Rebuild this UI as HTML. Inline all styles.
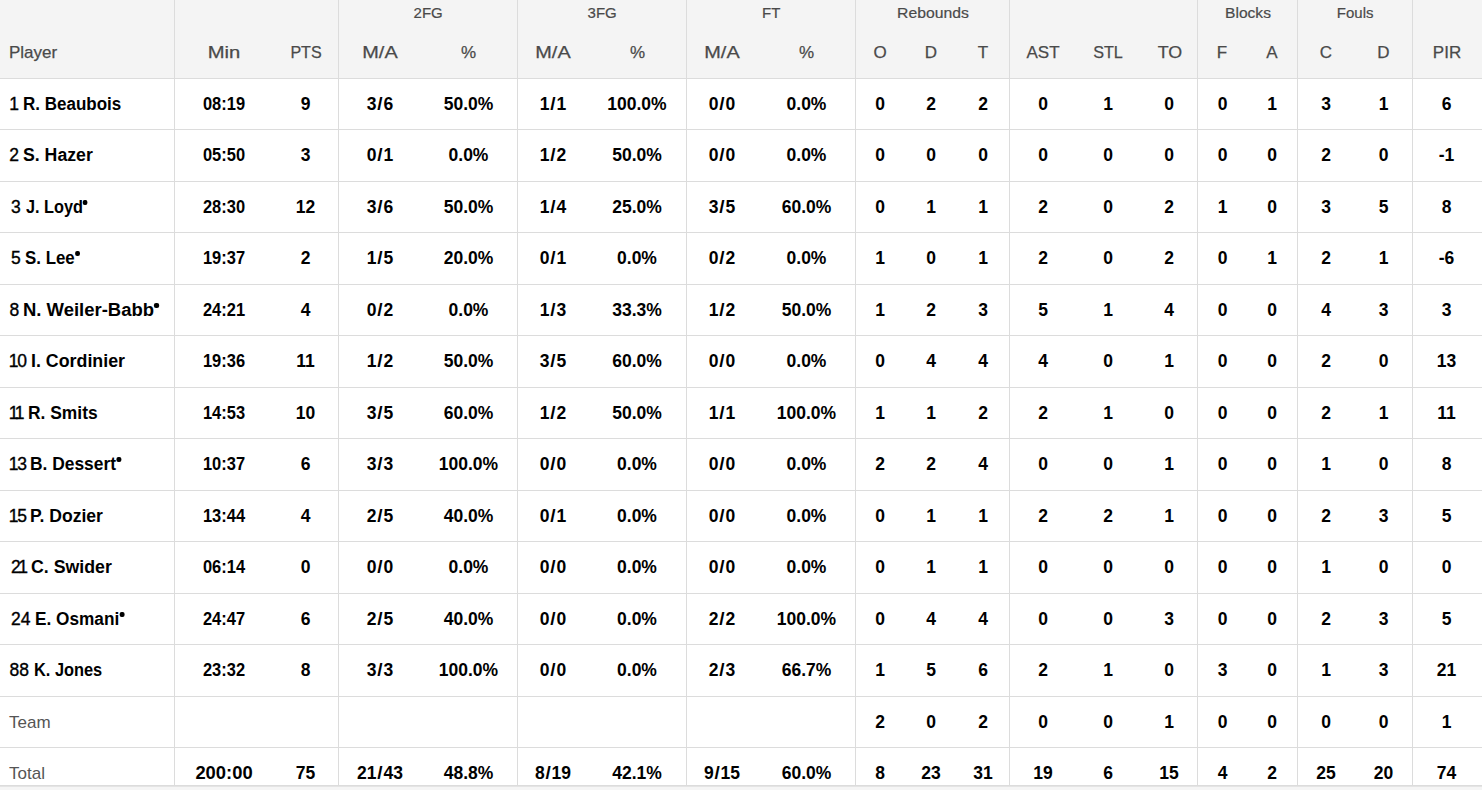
<!DOCTYPE html>
<html><head><meta charset="utf-8"><title>Box score</title>
<style>
*{margin:0;padding:0;box-sizing:border-box}
html,body{width:1482px;height:790px;overflow:hidden;background:#fff}
body{position:relative;font-family:"Liberation Sans",sans-serif;font-size:17px;color:#111}
.hd{position:absolute;left:0;top:0;width:1482px;height:78px;background:#f4f4f4}
.hl{position:absolute;left:0;width:1482px;height:1px;background:#dcdcdc}
.vl{position:absolute;top:0;width:1px;height:786px;background:#dcdcdc}
.c{position:absolute;text-align:center;white-space:nowrap;font-weight:bold;color:#000;font-size:17.5px;padding-top:1px}
.g{position:absolute;text-align:center;white-space:nowrap;font-size:15px;color:#4a4a4a;-webkit-text-stroke:0.2px #4a4a4a;top:0;height:25px;line-height:25px}
.s{position:absolute;text-align:center;white-space:nowrap;color:#4a4a4a;top:41px;height:24px;line-height:24px;-webkit-text-stroke:0.25px #4a4a4a}
.p{position:absolute;left:9px;white-space:nowrap;font-weight:bold;color:#000;font-size:17.5px;padding-top:1px}
.p span{font-weight:normal;-webkit-text-stroke:0.35px #000}
.p i{display:inline-block;width:5px;height:5px;border-radius:2px;background:#000;margin-left:0;vertical-align:8px}
.c b{font-weight:bold;margin:0 0.8px;font-size:19px;line-height:0}
.lab{position:absolute;left:9px;white-space:nowrap;color:#555;padding-top:1px}
.sb{position:absolute;left:0;top:787px;width:1482px;height:3px;background:#f5f5f5}
</style></head><body>
<div class="hd"></div>

<div class="g" style="left:338.7px;width:179px">2FG</div>
<div class="g" style="left:517.7px;width:169px">3FG</div>
<div class="g" style="left:686.7px;width:169px">FT</div>
<div class="g" style="left:855.7px;width:154px;transform:scaleX(1.05)">Rebounds</div>
<div class="g" style="left:1197.7px;width:100px;transform:scaleX(1.04)">Blocks</div>
<div class="g" style="left:1297.7px;width:115px">Fouls</div>
<div class="s" style="left:9px;text-align:left">Player</div>
<div class="s" style="left:174px;width:100px;transform:scaleX(1.19)">Min</div>
<div class="s" style="left:274px;width:64px;transform:scaleX(0.945)">PTS</div>
<div class="s" style="left:338px;width:84px;transform:scaleX(1.17)">M/A</div>
<div class="s" style="left:421px;width:95px">%</div>
<div class="s" style="left:517px;width:72px;transform:scaleX(1.17)">M/A</div>
<div class="s" style="left:589px;width:97px">%</div>
<div class="s" style="left:686px;width:72px;transform:scaleX(1.17)">M/A</div>
<div class="s" style="left:758px;width:97px">%</div>
<div class="s" style="left:855px;width:50px">O</div>
<div class="s" style="left:905px;width:52px">D</div>
<div class="s" style="left:957px;width:52px">T</div>
<div class="s" style="left:1009px;width:68px">AST</div>
<div class="s" style="left:1077px;width:62px;transform:scaleX(0.95)">STL</div>
<div class="s" style="left:1140.5px;width:58px;transform:scaleX(1.05)">TO</div>
<div class="s" style="left:1197px;width:50px">F</div>
<div class="s" style="left:1247px;width:50px">A</div>
<div class="s" style="left:1297px;width:58px">C</div>
<div class="s" style="left:1355px;width:57px">D</div>
<div class="s" style="left:1412px;width:70px">PIR</div>
<div class="p" style="left:9.3px;top:78.00px;height:51.46px;line-height:51.46px"><span>1</span></div>
<div class="p" style="left:22.93px;top:78.00px;height:51.46px;line-height:51.46px;transform:scaleX(0.971);transform-origin:0 0">R. Beaubois</div>
<div class="c" style="left:174px;width:100px;top:78.00px;height:51.46px;line-height:51.46px;transform:scaleX(0.94)">08:19</div>
<div class="c" style="left:273.5px;width:64px;top:78.00px;height:51.46px;line-height:51.46px">9</div>
<div class="c" style="left:338px;width:84px;top:78.00px;height:51.46px;line-height:51.46px">3<b>/</b>6</div>
<div class="c" style="left:421px;width:95px;top:78.00px;height:51.46px;line-height:51.46px">50.0%</div>
<div class="c" style="left:517px;width:72px;top:78.00px;height:51.46px;line-height:51.46px">1<b>/</b>1</div>
<div class="c" style="left:588.5px;width:97px;top:78.00px;height:51.46px;line-height:51.46px">100.0%</div>
<div class="c" style="left:686px;width:72px;top:78.00px;height:51.46px;line-height:51.46px">0<b>/</b>0</div>
<div class="c" style="left:758px;width:97px;top:78.00px;height:51.46px;line-height:51.46px">0.0%</div>
<div class="c" style="left:855px;width:50px;top:78.00px;height:51.46px;line-height:51.46px">0</div>
<div class="c" style="left:905px;width:52px;top:78.00px;height:51.46px;line-height:51.46px">2</div>
<div class="c" style="left:957px;width:52px;top:78.00px;height:51.46px;line-height:51.46px">2</div>
<div class="c" style="left:1009px;width:68px;top:78.00px;height:51.46px;line-height:51.46px">0</div>
<div class="c" style="left:1077px;width:62px;top:78.00px;height:51.46px;line-height:51.46px">1</div>
<div class="c" style="left:1140px;width:58px;top:78.00px;height:51.46px;line-height:51.46px">0</div>
<div class="c" style="left:1197.5px;width:50px;top:78.00px;height:51.46px;line-height:51.46px">0</div>
<div class="c" style="left:1247px;width:50px;top:78.00px;height:51.46px;line-height:51.46px">1</div>
<div class="c" style="left:1297px;width:58px;top:78.00px;height:51.46px;line-height:51.46px">3</div>
<div class="c" style="left:1355px;width:57px;top:78.00px;height:51.46px;line-height:51.46px">1</div>
<div class="c" style="left:1411.5px;width:70px;top:78.00px;height:51.46px;line-height:51.46px">6</div>
<div class="p" style="left:9.2px;top:129.46px;height:51.46px;line-height:51.46px"><span>2</span></div>
<div class="p" style="left:22.89px;top:129.46px;height:51.46px;line-height:51.46px;transform:scaleX(1.0103);transform-origin:0 0">S. Hazer</div>
<div class="c" style="left:174px;width:100px;top:129.46px;height:51.46px;line-height:51.46px;transform:scaleX(0.94)">05:50</div>
<div class="c" style="left:273.5px;width:64px;top:129.46px;height:51.46px;line-height:51.46px">3</div>
<div class="c" style="left:338px;width:84px;top:129.46px;height:51.46px;line-height:51.46px">0<b>/</b>1</div>
<div class="c" style="left:421px;width:95px;top:129.46px;height:51.46px;line-height:51.46px">0.0%</div>
<div class="c" style="left:517px;width:72px;top:129.46px;height:51.46px;line-height:51.46px">1<b>/</b>2</div>
<div class="c" style="left:588.5px;width:97px;top:129.46px;height:51.46px;line-height:51.46px">50.0%</div>
<div class="c" style="left:686px;width:72px;top:129.46px;height:51.46px;line-height:51.46px">0<b>/</b>0</div>
<div class="c" style="left:758px;width:97px;top:129.46px;height:51.46px;line-height:51.46px">0.0%</div>
<div class="c" style="left:855px;width:50px;top:129.46px;height:51.46px;line-height:51.46px">0</div>
<div class="c" style="left:905px;width:52px;top:129.46px;height:51.46px;line-height:51.46px">0</div>
<div class="c" style="left:957px;width:52px;top:129.46px;height:51.46px;line-height:51.46px">0</div>
<div class="c" style="left:1009px;width:68px;top:129.46px;height:51.46px;line-height:51.46px">0</div>
<div class="c" style="left:1077px;width:62px;top:129.46px;height:51.46px;line-height:51.46px">0</div>
<div class="c" style="left:1140px;width:58px;top:129.46px;height:51.46px;line-height:51.46px">0</div>
<div class="c" style="left:1197.5px;width:50px;top:129.46px;height:51.46px;line-height:51.46px">0</div>
<div class="c" style="left:1247px;width:50px;top:129.46px;height:51.46px;line-height:51.46px">0</div>
<div class="c" style="left:1297px;width:58px;top:129.46px;height:51.46px;line-height:51.46px">2</div>
<div class="c" style="left:1355px;width:57px;top:129.46px;height:51.46px;line-height:51.46px">0</div>
<div class="c" style="left:1411.5px;width:70px;top:129.46px;height:51.46px;line-height:51.46px">-1</div>
<div class="p" style="left:10.95px;top:180.92px;height:51.46px;line-height:51.46px"><span>3</span></div>
<div class="p" style="left:25.8px;top:180.92px;height:51.46px;line-height:51.46px;transform:scaleX(0.9303);transform-origin:0 0">J. Loyd<i></i></div>
<div class="c" style="left:174px;width:100px;top:180.92px;height:51.46px;line-height:51.46px;transform:scaleX(0.94)">28:30</div>
<div class="c" style="left:273.5px;width:64px;top:180.92px;height:51.46px;line-height:51.46px">12</div>
<div class="c" style="left:338px;width:84px;top:180.92px;height:51.46px;line-height:51.46px">3<b>/</b>6</div>
<div class="c" style="left:421px;width:95px;top:180.92px;height:51.46px;line-height:51.46px">50.0%</div>
<div class="c" style="left:517px;width:72px;top:180.92px;height:51.46px;line-height:51.46px">1<b>/</b>4</div>
<div class="c" style="left:588.5px;width:97px;top:180.92px;height:51.46px;line-height:51.46px">25.0%</div>
<div class="c" style="left:686px;width:72px;top:180.92px;height:51.46px;line-height:51.46px">3<b>/</b>5</div>
<div class="c" style="left:758px;width:97px;top:180.92px;height:51.46px;line-height:51.46px">60.0%</div>
<div class="c" style="left:855px;width:50px;top:180.92px;height:51.46px;line-height:51.46px">0</div>
<div class="c" style="left:905px;width:52px;top:180.92px;height:51.46px;line-height:51.46px">1</div>
<div class="c" style="left:957px;width:52px;top:180.92px;height:51.46px;line-height:51.46px">1</div>
<div class="c" style="left:1009px;width:68px;top:180.92px;height:51.46px;line-height:51.46px">2</div>
<div class="c" style="left:1077px;width:62px;top:180.92px;height:51.46px;line-height:51.46px">0</div>
<div class="c" style="left:1140px;width:58px;top:180.92px;height:51.46px;line-height:51.46px">2</div>
<div class="c" style="left:1197.5px;width:50px;top:180.92px;height:51.46px;line-height:51.46px">1</div>
<div class="c" style="left:1247px;width:50px;top:180.92px;height:51.46px;line-height:51.46px">0</div>
<div class="c" style="left:1297px;width:58px;top:180.92px;height:51.46px;line-height:51.46px">3</div>
<div class="c" style="left:1355px;width:57px;top:180.92px;height:51.46px;line-height:51.46px">5</div>
<div class="c" style="left:1411.5px;width:70px;top:180.92px;height:51.46px;line-height:51.46px">8</div>
<div class="p" style="left:10.95px;top:232.38px;height:51.46px;line-height:51.46px"><span>5</span></div>
<div class="p" style="left:24.84px;top:232.38px;height:51.46px;line-height:51.46px;transform:scaleX(0.9643);transform-origin:0 0">S. Lee<i></i></div>
<div class="c" style="left:174px;width:100px;top:232.38px;height:51.46px;line-height:51.46px;transform:scaleX(0.94)">19:37</div>
<div class="c" style="left:273.5px;width:64px;top:232.38px;height:51.46px;line-height:51.46px">2</div>
<div class="c" style="left:338px;width:84px;top:232.38px;height:51.46px;line-height:51.46px">1<b>/</b>5</div>
<div class="c" style="left:421px;width:95px;top:232.38px;height:51.46px;line-height:51.46px">20.0%</div>
<div class="c" style="left:517px;width:72px;top:232.38px;height:51.46px;line-height:51.46px">0<b>/</b>1</div>
<div class="c" style="left:588.5px;width:97px;top:232.38px;height:51.46px;line-height:51.46px">0.0%</div>
<div class="c" style="left:686px;width:72px;top:232.38px;height:51.46px;line-height:51.46px">0<b>/</b>2</div>
<div class="c" style="left:758px;width:97px;top:232.38px;height:51.46px;line-height:51.46px">0.0%</div>
<div class="c" style="left:855px;width:50px;top:232.38px;height:51.46px;line-height:51.46px">1</div>
<div class="c" style="left:905px;width:52px;top:232.38px;height:51.46px;line-height:51.46px">0</div>
<div class="c" style="left:957px;width:52px;top:232.38px;height:51.46px;line-height:51.46px">1</div>
<div class="c" style="left:1009px;width:68px;top:232.38px;height:51.46px;line-height:51.46px">2</div>
<div class="c" style="left:1077px;width:62px;top:232.38px;height:51.46px;line-height:51.46px">0</div>
<div class="c" style="left:1140px;width:58px;top:232.38px;height:51.46px;line-height:51.46px">2</div>
<div class="c" style="left:1197.5px;width:50px;top:232.38px;height:51.46px;line-height:51.46px">0</div>
<div class="c" style="left:1247px;width:50px;top:232.38px;height:51.46px;line-height:51.46px">1</div>
<div class="c" style="left:1297px;width:58px;top:232.38px;height:51.46px;line-height:51.46px">2</div>
<div class="c" style="left:1355px;width:57px;top:232.38px;height:51.46px;line-height:51.46px">1</div>
<div class="c" style="left:1411.5px;width:70px;top:232.38px;height:51.46px;line-height:51.46px">-6</div>
<div class="p" style="left:9.5px;top:283.85px;height:51.46px;line-height:51.46px"><span>8</span></div>
<div class="p" style="left:23.44px;top:283.85px;height:51.46px;line-height:51.46px;transform:scaleX(1.0555);transform-origin:0 0">N. Weiler-Babb<i></i></div>
<div class="c" style="left:174px;width:100px;top:283.85px;height:51.46px;line-height:51.46px;transform:scaleX(0.94)">24:21</div>
<div class="c" style="left:273.5px;width:64px;top:283.85px;height:51.46px;line-height:51.46px">4</div>
<div class="c" style="left:338px;width:84px;top:283.85px;height:51.46px;line-height:51.46px">0<b>/</b>2</div>
<div class="c" style="left:421px;width:95px;top:283.85px;height:51.46px;line-height:51.46px">0.0%</div>
<div class="c" style="left:517px;width:72px;top:283.85px;height:51.46px;line-height:51.46px">1<b>/</b>3</div>
<div class="c" style="left:588.5px;width:97px;top:283.85px;height:51.46px;line-height:51.46px">33.3%</div>
<div class="c" style="left:686px;width:72px;top:283.85px;height:51.46px;line-height:51.46px">1<b>/</b>2</div>
<div class="c" style="left:758px;width:97px;top:283.85px;height:51.46px;line-height:51.46px">50.0%</div>
<div class="c" style="left:855px;width:50px;top:283.85px;height:51.46px;line-height:51.46px">1</div>
<div class="c" style="left:905px;width:52px;top:283.85px;height:51.46px;line-height:51.46px">2</div>
<div class="c" style="left:957px;width:52px;top:283.85px;height:51.46px;line-height:51.46px">3</div>
<div class="c" style="left:1009px;width:68px;top:283.85px;height:51.46px;line-height:51.46px">5</div>
<div class="c" style="left:1077px;width:62px;top:283.85px;height:51.46px;line-height:51.46px">1</div>
<div class="c" style="left:1140px;width:58px;top:283.85px;height:51.46px;line-height:51.46px">4</div>
<div class="c" style="left:1197.5px;width:50px;top:283.85px;height:51.46px;line-height:51.46px">0</div>
<div class="c" style="left:1247px;width:50px;top:283.85px;height:51.46px;line-height:51.46px">0</div>
<div class="c" style="left:1297px;width:58px;top:283.85px;height:51.46px;line-height:51.46px">4</div>
<div class="c" style="left:1355px;width:57px;top:283.85px;height:51.46px;line-height:51.46px">3</div>
<div class="c" style="left:1411.5px;width:70px;top:283.85px;height:51.46px;line-height:51.46px">3</div>
<div class="p" style="left:8.8px;top:335.31px;height:51.46px;line-height:51.46px;letter-spacing:-1.2px"><span>10</span></div>
<div class="p" style="left:30.88px;top:335.31px;height:51.46px;line-height:51.46px;transform:scaleX(1.0176);transform-origin:0 0">I. Cordinier</div>
<div class="c" style="left:174px;width:100px;top:335.31px;height:51.46px;line-height:51.46px;transform:scaleX(0.94)">19:36</div>
<div class="c" style="left:273.5px;width:64px;top:335.31px;height:51.46px;line-height:51.46px">11</div>
<div class="c" style="left:338px;width:84px;top:335.31px;height:51.46px;line-height:51.46px">1<b>/</b>2</div>
<div class="c" style="left:421px;width:95px;top:335.31px;height:51.46px;line-height:51.46px">50.0%</div>
<div class="c" style="left:517px;width:72px;top:335.31px;height:51.46px;line-height:51.46px">3<b>/</b>5</div>
<div class="c" style="left:588.5px;width:97px;top:335.31px;height:51.46px;line-height:51.46px">60.0%</div>
<div class="c" style="left:686px;width:72px;top:335.31px;height:51.46px;line-height:51.46px">0<b>/</b>0</div>
<div class="c" style="left:758px;width:97px;top:335.31px;height:51.46px;line-height:51.46px">0.0%</div>
<div class="c" style="left:855px;width:50px;top:335.31px;height:51.46px;line-height:51.46px">0</div>
<div class="c" style="left:905px;width:52px;top:335.31px;height:51.46px;line-height:51.46px">4</div>
<div class="c" style="left:957px;width:52px;top:335.31px;height:51.46px;line-height:51.46px">4</div>
<div class="c" style="left:1009px;width:68px;top:335.31px;height:51.46px;line-height:51.46px">4</div>
<div class="c" style="left:1077px;width:62px;top:335.31px;height:51.46px;line-height:51.46px">0</div>
<div class="c" style="left:1140px;width:58px;top:335.31px;height:51.46px;line-height:51.46px">1</div>
<div class="c" style="left:1197.5px;width:50px;top:335.31px;height:51.46px;line-height:51.46px">0</div>
<div class="c" style="left:1247px;width:50px;top:335.31px;height:51.46px;line-height:51.46px">0</div>
<div class="c" style="left:1297px;width:58px;top:335.31px;height:51.46px;line-height:51.46px">2</div>
<div class="c" style="left:1355px;width:57px;top:335.31px;height:51.46px;line-height:51.46px">0</div>
<div class="c" style="left:1411.5px;width:70px;top:335.31px;height:51.46px;line-height:51.46px">13</div>
<div class="p" style="left:8.8px;top:386.77px;height:51.46px;line-height:51.46px;letter-spacing:-2.4px"><span>11</span></div>
<div class="p" style="left:27.71px;top:386.77px;height:51.46px;line-height:51.46px;transform:scaleX(0.9941);transform-origin:0 0">R. Smits</div>
<div class="c" style="left:174px;width:100px;top:386.77px;height:51.46px;line-height:51.46px;transform:scaleX(0.94)">14:53</div>
<div class="c" style="left:273.5px;width:64px;top:386.77px;height:51.46px;line-height:51.46px">10</div>
<div class="c" style="left:338px;width:84px;top:386.77px;height:51.46px;line-height:51.46px">3<b>/</b>5</div>
<div class="c" style="left:421px;width:95px;top:386.77px;height:51.46px;line-height:51.46px">60.0%</div>
<div class="c" style="left:517px;width:72px;top:386.77px;height:51.46px;line-height:51.46px">1<b>/</b>2</div>
<div class="c" style="left:588.5px;width:97px;top:386.77px;height:51.46px;line-height:51.46px">50.0%</div>
<div class="c" style="left:686px;width:72px;top:386.77px;height:51.46px;line-height:51.46px">1<b>/</b>1</div>
<div class="c" style="left:758px;width:97px;top:386.77px;height:51.46px;line-height:51.46px">100.0%</div>
<div class="c" style="left:855px;width:50px;top:386.77px;height:51.46px;line-height:51.46px">1</div>
<div class="c" style="left:905px;width:52px;top:386.77px;height:51.46px;line-height:51.46px">1</div>
<div class="c" style="left:957px;width:52px;top:386.77px;height:51.46px;line-height:51.46px">2</div>
<div class="c" style="left:1009px;width:68px;top:386.77px;height:51.46px;line-height:51.46px">2</div>
<div class="c" style="left:1077px;width:62px;top:386.77px;height:51.46px;line-height:51.46px">1</div>
<div class="c" style="left:1140px;width:58px;top:386.77px;height:51.46px;line-height:51.46px">0</div>
<div class="c" style="left:1197.5px;width:50px;top:386.77px;height:51.46px;line-height:51.46px">0</div>
<div class="c" style="left:1247px;width:50px;top:386.77px;height:51.46px;line-height:51.46px">0</div>
<div class="c" style="left:1297px;width:58px;top:386.77px;height:51.46px;line-height:51.46px">2</div>
<div class="c" style="left:1355px;width:57px;top:386.77px;height:51.46px;line-height:51.46px">1</div>
<div class="c" style="left:1411.5px;width:70px;top:386.77px;height:51.46px;line-height:51.46px">11</div>
<div class="p" style="left:8.8px;top:438.23px;height:51.46px;line-height:51.46px;letter-spacing:-1.2px"><span>13</span></div>
<div class="p" style="left:30.11px;top:438.23px;height:51.46px;line-height:51.46px;transform:scaleX(0.9934);transform-origin:0 0">B. Dessert<i></i></div>
<div class="c" style="left:174px;width:100px;top:438.23px;height:51.46px;line-height:51.46px;transform:scaleX(0.94)">10:37</div>
<div class="c" style="left:273.5px;width:64px;top:438.23px;height:51.46px;line-height:51.46px">6</div>
<div class="c" style="left:338px;width:84px;top:438.23px;height:51.46px;line-height:51.46px">3<b>/</b>3</div>
<div class="c" style="left:421px;width:95px;top:438.23px;height:51.46px;line-height:51.46px">100.0%</div>
<div class="c" style="left:517px;width:72px;top:438.23px;height:51.46px;line-height:51.46px">0<b>/</b>0</div>
<div class="c" style="left:588.5px;width:97px;top:438.23px;height:51.46px;line-height:51.46px">0.0%</div>
<div class="c" style="left:686px;width:72px;top:438.23px;height:51.46px;line-height:51.46px">0<b>/</b>0</div>
<div class="c" style="left:758px;width:97px;top:438.23px;height:51.46px;line-height:51.46px">0.0%</div>
<div class="c" style="left:855px;width:50px;top:438.23px;height:51.46px;line-height:51.46px">2</div>
<div class="c" style="left:905px;width:52px;top:438.23px;height:51.46px;line-height:51.46px">2</div>
<div class="c" style="left:957px;width:52px;top:438.23px;height:51.46px;line-height:51.46px">4</div>
<div class="c" style="left:1009px;width:68px;top:438.23px;height:51.46px;line-height:51.46px">0</div>
<div class="c" style="left:1077px;width:62px;top:438.23px;height:51.46px;line-height:51.46px">0</div>
<div class="c" style="left:1140px;width:58px;top:438.23px;height:51.46px;line-height:51.46px">1</div>
<div class="c" style="left:1197.5px;width:50px;top:438.23px;height:51.46px;line-height:51.46px">0</div>
<div class="c" style="left:1247px;width:50px;top:438.23px;height:51.46px;line-height:51.46px">0</div>
<div class="c" style="left:1297px;width:58px;top:438.23px;height:51.46px;line-height:51.46px">1</div>
<div class="c" style="left:1355px;width:57px;top:438.23px;height:51.46px;line-height:51.46px">0</div>
<div class="c" style="left:1411.5px;width:70px;top:438.23px;height:51.46px;line-height:51.46px">8</div>
<div class="p" style="left:8.8px;top:489.69px;height:51.46px;line-height:51.46px;letter-spacing:-1.2px"><span>15</span></div>
<div class="p" style="left:30.4px;top:489.69px;height:51.46px;line-height:51.46px;transform:scaleX(1.0042);transform-origin:0 0">P. Dozier</div>
<div class="c" style="left:174px;width:100px;top:489.69px;height:51.46px;line-height:51.46px;transform:scaleX(0.94)">13:44</div>
<div class="c" style="left:273.5px;width:64px;top:489.69px;height:51.46px;line-height:51.46px">4</div>
<div class="c" style="left:338px;width:84px;top:489.69px;height:51.46px;line-height:51.46px">2<b>/</b>5</div>
<div class="c" style="left:421px;width:95px;top:489.69px;height:51.46px;line-height:51.46px">40.0%</div>
<div class="c" style="left:517px;width:72px;top:489.69px;height:51.46px;line-height:51.46px">0<b>/</b>1</div>
<div class="c" style="left:588.5px;width:97px;top:489.69px;height:51.46px;line-height:51.46px">0.0%</div>
<div class="c" style="left:686px;width:72px;top:489.69px;height:51.46px;line-height:51.46px">0<b>/</b>0</div>
<div class="c" style="left:758px;width:97px;top:489.69px;height:51.46px;line-height:51.46px">0.0%</div>
<div class="c" style="left:855px;width:50px;top:489.69px;height:51.46px;line-height:51.46px">0</div>
<div class="c" style="left:905px;width:52px;top:489.69px;height:51.46px;line-height:51.46px">1</div>
<div class="c" style="left:957px;width:52px;top:489.69px;height:51.46px;line-height:51.46px">1</div>
<div class="c" style="left:1009px;width:68px;top:489.69px;height:51.46px;line-height:51.46px">2</div>
<div class="c" style="left:1077px;width:62px;top:489.69px;height:51.46px;line-height:51.46px">2</div>
<div class="c" style="left:1140px;width:58px;top:489.69px;height:51.46px;line-height:51.46px">1</div>
<div class="c" style="left:1197.5px;width:50px;top:489.69px;height:51.46px;line-height:51.46px">0</div>
<div class="c" style="left:1247px;width:50px;top:489.69px;height:51.46px;line-height:51.46px">0</div>
<div class="c" style="left:1297px;width:58px;top:489.69px;height:51.46px;line-height:51.46px">2</div>
<div class="c" style="left:1355px;width:57px;top:489.69px;height:51.46px;line-height:51.46px">3</div>
<div class="c" style="left:1411.5px;width:70px;top:489.69px;height:51.46px;line-height:51.46px">5</div>
<div class="p" style="left:11px;top:541.15px;height:51.46px;line-height:51.46px;letter-spacing:-2.6px"><span>21</span></div>
<div class="p" style="left:31.39px;top:541.15px;height:51.46px;line-height:51.46px;transform:scaleX(1.0139);transform-origin:0 0">C. Swider</div>
<div class="c" style="left:174px;width:100px;top:541.15px;height:51.46px;line-height:51.46px;transform:scaleX(0.94)">06:14</div>
<div class="c" style="left:273.5px;width:64px;top:541.15px;height:51.46px;line-height:51.46px">0</div>
<div class="c" style="left:338px;width:84px;top:541.15px;height:51.46px;line-height:51.46px">0<b>/</b>0</div>
<div class="c" style="left:421px;width:95px;top:541.15px;height:51.46px;line-height:51.46px">0.0%</div>
<div class="c" style="left:517px;width:72px;top:541.15px;height:51.46px;line-height:51.46px">0<b>/</b>0</div>
<div class="c" style="left:588.5px;width:97px;top:541.15px;height:51.46px;line-height:51.46px">0.0%</div>
<div class="c" style="left:686px;width:72px;top:541.15px;height:51.46px;line-height:51.46px">0<b>/</b>0</div>
<div class="c" style="left:758px;width:97px;top:541.15px;height:51.46px;line-height:51.46px">0.0%</div>
<div class="c" style="left:855px;width:50px;top:541.15px;height:51.46px;line-height:51.46px">0</div>
<div class="c" style="left:905px;width:52px;top:541.15px;height:51.46px;line-height:51.46px">1</div>
<div class="c" style="left:957px;width:52px;top:541.15px;height:51.46px;line-height:51.46px">1</div>
<div class="c" style="left:1009px;width:68px;top:541.15px;height:51.46px;line-height:51.46px">0</div>
<div class="c" style="left:1077px;width:62px;top:541.15px;height:51.46px;line-height:51.46px">0</div>
<div class="c" style="left:1140px;width:58px;top:541.15px;height:51.46px;line-height:51.46px">0</div>
<div class="c" style="left:1197.5px;width:50px;top:541.15px;height:51.46px;line-height:51.46px">0</div>
<div class="c" style="left:1247px;width:50px;top:541.15px;height:51.46px;line-height:51.46px">0</div>
<div class="c" style="left:1297px;width:58px;top:541.15px;height:51.46px;line-height:51.46px">1</div>
<div class="c" style="left:1355px;width:57px;top:541.15px;height:51.46px;line-height:51.46px">0</div>
<div class="c" style="left:1411.5px;width:70px;top:541.15px;height:51.46px;line-height:51.46px">0</div>
<div class="p" style="left:11px;top:592.62px;height:51.46px;line-height:51.46px"><span>24</span></div>
<div class="p" style="left:34.92px;top:592.62px;height:51.46px;line-height:51.46px;transform:scaleX(0.9844);transform-origin:0 0">E. Osmani<i></i></div>
<div class="c" style="left:174px;width:100px;top:592.62px;height:51.46px;line-height:51.46px;transform:scaleX(0.94)">24:47</div>
<div class="c" style="left:273.5px;width:64px;top:592.62px;height:51.46px;line-height:51.46px">6</div>
<div class="c" style="left:338px;width:84px;top:592.62px;height:51.46px;line-height:51.46px">2<b>/</b>5</div>
<div class="c" style="left:421px;width:95px;top:592.62px;height:51.46px;line-height:51.46px">40.0%</div>
<div class="c" style="left:517px;width:72px;top:592.62px;height:51.46px;line-height:51.46px">0<b>/</b>0</div>
<div class="c" style="left:588.5px;width:97px;top:592.62px;height:51.46px;line-height:51.46px">0.0%</div>
<div class="c" style="left:686px;width:72px;top:592.62px;height:51.46px;line-height:51.46px">2<b>/</b>2</div>
<div class="c" style="left:758px;width:97px;top:592.62px;height:51.46px;line-height:51.46px">100.0%</div>
<div class="c" style="left:855px;width:50px;top:592.62px;height:51.46px;line-height:51.46px">0</div>
<div class="c" style="left:905px;width:52px;top:592.62px;height:51.46px;line-height:51.46px">4</div>
<div class="c" style="left:957px;width:52px;top:592.62px;height:51.46px;line-height:51.46px">4</div>
<div class="c" style="left:1009px;width:68px;top:592.62px;height:51.46px;line-height:51.46px">0</div>
<div class="c" style="left:1077px;width:62px;top:592.62px;height:51.46px;line-height:51.46px">0</div>
<div class="c" style="left:1140px;width:58px;top:592.62px;height:51.46px;line-height:51.46px">3</div>
<div class="c" style="left:1197.5px;width:50px;top:592.62px;height:51.46px;line-height:51.46px">0</div>
<div class="c" style="left:1247px;width:50px;top:592.62px;height:51.46px;line-height:51.46px">0</div>
<div class="c" style="left:1297px;width:58px;top:592.62px;height:51.46px;line-height:51.46px">2</div>
<div class="c" style="left:1355px;width:57px;top:592.62px;height:51.46px;line-height:51.46px">3</div>
<div class="c" style="left:1411.5px;width:70px;top:592.62px;height:51.46px;line-height:51.46px">5</div>
<div class="p" style="left:9.6px;top:644.08px;height:51.46px;line-height:51.46px;letter-spacing:-0.1px"><span>88</span></div>
<div class="p" style="left:33.66px;top:644.08px;height:51.46px;line-height:51.46px;transform:scaleX(0.9352);transform-origin:0 0">K. Jones</div>
<div class="c" style="left:174px;width:100px;top:644.08px;height:51.46px;line-height:51.46px;transform:scaleX(0.94)">23:32</div>
<div class="c" style="left:273.5px;width:64px;top:644.08px;height:51.46px;line-height:51.46px">8</div>
<div class="c" style="left:338px;width:84px;top:644.08px;height:51.46px;line-height:51.46px">3<b>/</b>3</div>
<div class="c" style="left:421px;width:95px;top:644.08px;height:51.46px;line-height:51.46px">100.0%</div>
<div class="c" style="left:517px;width:72px;top:644.08px;height:51.46px;line-height:51.46px">0<b>/</b>0</div>
<div class="c" style="left:588.5px;width:97px;top:644.08px;height:51.46px;line-height:51.46px">0.0%</div>
<div class="c" style="left:686px;width:72px;top:644.08px;height:51.46px;line-height:51.46px">2<b>/</b>3</div>
<div class="c" style="left:758px;width:97px;top:644.08px;height:51.46px;line-height:51.46px">66.7%</div>
<div class="c" style="left:855px;width:50px;top:644.08px;height:51.46px;line-height:51.46px">1</div>
<div class="c" style="left:905px;width:52px;top:644.08px;height:51.46px;line-height:51.46px">5</div>
<div class="c" style="left:957px;width:52px;top:644.08px;height:51.46px;line-height:51.46px">6</div>
<div class="c" style="left:1009px;width:68px;top:644.08px;height:51.46px;line-height:51.46px">2</div>
<div class="c" style="left:1077px;width:62px;top:644.08px;height:51.46px;line-height:51.46px">1</div>
<div class="c" style="left:1140px;width:58px;top:644.08px;height:51.46px;line-height:51.46px">0</div>
<div class="c" style="left:1197.5px;width:50px;top:644.08px;height:51.46px;line-height:51.46px">3</div>
<div class="c" style="left:1247px;width:50px;top:644.08px;height:51.46px;line-height:51.46px">0</div>
<div class="c" style="left:1297px;width:58px;top:644.08px;height:51.46px;line-height:51.46px">1</div>
<div class="c" style="left:1355px;width:57px;top:644.08px;height:51.46px;line-height:51.46px">3</div>
<div class="c" style="left:1411.5px;width:70px;top:644.08px;height:51.46px;line-height:51.46px">21</div>
<div class="lab" style="top:695.54px;height:51.46px;line-height:51.46px">Team</div>
<div class="c" style="left:855px;width:50px;top:695.54px;height:51.46px;line-height:51.46px">2</div>
<div class="c" style="left:905px;width:52px;top:695.54px;height:51.46px;line-height:51.46px">0</div>
<div class="c" style="left:957px;width:52px;top:695.54px;height:51.46px;line-height:51.46px">2</div>
<div class="c" style="left:1009px;width:68px;top:695.54px;height:51.46px;line-height:51.46px">0</div>
<div class="c" style="left:1077px;width:62px;top:695.54px;height:51.46px;line-height:51.46px">0</div>
<div class="c" style="left:1140px;width:58px;top:695.54px;height:51.46px;line-height:51.46px">1</div>
<div class="c" style="left:1197.5px;width:50px;top:695.54px;height:51.46px;line-height:51.46px">0</div>
<div class="c" style="left:1247px;width:50px;top:695.54px;height:51.46px;line-height:51.46px">0</div>
<div class="c" style="left:1297px;width:58px;top:695.54px;height:51.46px;line-height:51.46px">0</div>
<div class="c" style="left:1355px;width:57px;top:695.54px;height:51.46px;line-height:51.46px">0</div>
<div class="c" style="left:1411.5px;width:70px;top:695.54px;height:51.46px;line-height:51.46px">1</div>
<div class="lab" style="top:747.00px;height:51.46px;line-height:51.46px">Total</div>
<div class="c" style="left:174px;width:100px;top:747.00px;height:51.46px;line-height:51.46px;transform:scaleX(1.05)">200:00</div>
<div class="c" style="left:273.5px;width:64px;top:747.00px;height:51.46px;line-height:51.46px">75</div>
<div class="c" style="left:338px;width:84px;top:747.00px;height:51.46px;line-height:51.46px">21<b>/</b>43</div>
<div class="c" style="left:421px;width:95px;top:747.00px;height:51.46px;line-height:51.46px">48.8%</div>
<div class="c" style="left:517px;width:72px;top:747.00px;height:51.46px;line-height:51.46px">8<b>/</b>19</div>
<div class="c" style="left:588.5px;width:97px;top:747.00px;height:51.46px;line-height:51.46px">42.1%</div>
<div class="c" style="left:686px;width:72px;top:747.00px;height:51.46px;line-height:51.46px">9<b>/</b>15</div>
<div class="c" style="left:758px;width:97px;top:747.00px;height:51.46px;line-height:51.46px">60.0%</div>
<div class="c" style="left:855px;width:50px;top:747.00px;height:51.46px;line-height:51.46px">8</div>
<div class="c" style="left:905px;width:52px;top:747.00px;height:51.46px;line-height:51.46px">23</div>
<div class="c" style="left:957px;width:52px;top:747.00px;height:51.46px;line-height:51.46px">31</div>
<div class="c" style="left:1009px;width:68px;top:747.00px;height:51.46px;line-height:51.46px">19</div>
<div class="c" style="left:1077px;width:62px;top:747.00px;height:51.46px;line-height:51.46px">6</div>
<div class="c" style="left:1140px;width:58px;top:747.00px;height:51.46px;line-height:51.46px">15</div>
<div class="c" style="left:1197.5px;width:50px;top:747.00px;height:51.46px;line-height:51.46px">4</div>
<div class="c" style="left:1247px;width:50px;top:747.00px;height:51.46px;line-height:51.46px">2</div>
<div class="c" style="left:1297px;width:58px;top:747.00px;height:51.46px;line-height:51.46px">25</div>
<div class="c" style="left:1355px;width:57px;top:747.00px;height:51.46px;line-height:51.46px">20</div>
<div class="c" style="left:1411.5px;width:70px;top:747.00px;height:51.46px;line-height:51.46px">74</div>
<div class="hl" style="top:78px"></div>
<div class="hl" style="top:129px"></div>
<div class="hl" style="top:181px"></div>
<div class="hl" style="top:232px"></div>
<div class="hl" style="top:284px"></div>
<div class="hl" style="top:335px"></div>
<div class="hl" style="top:387px"></div>
<div class="hl" style="top:438px"></div>
<div class="hl" style="top:490px"></div>
<div class="hl" style="top:541px"></div>
<div class="hl" style="top:593px"></div>
<div class="hl" style="top:644px"></div>
<div class="hl" style="top:696px"></div>
<div class="hl" style="top:747px"></div>
<div class="vl" style="left:174px"></div>
<div class="vl" style="left:338px"></div>
<div class="vl" style="left:517px"></div>
<div class="vl" style="left:686px"></div>
<div class="vl" style="left:855px"></div>
<div class="vl" style="left:1009px"></div>
<div class="vl" style="left:1197px"></div>
<div class="vl" style="left:1297px"></div>
<div class="vl" style="left:1412px"></div>
<div class="hl" style="top:785px"></div>
<div class="hl" style="top:786px;background:#e4e4e4"></div>
<div class="sb"></div>
</body></html>
